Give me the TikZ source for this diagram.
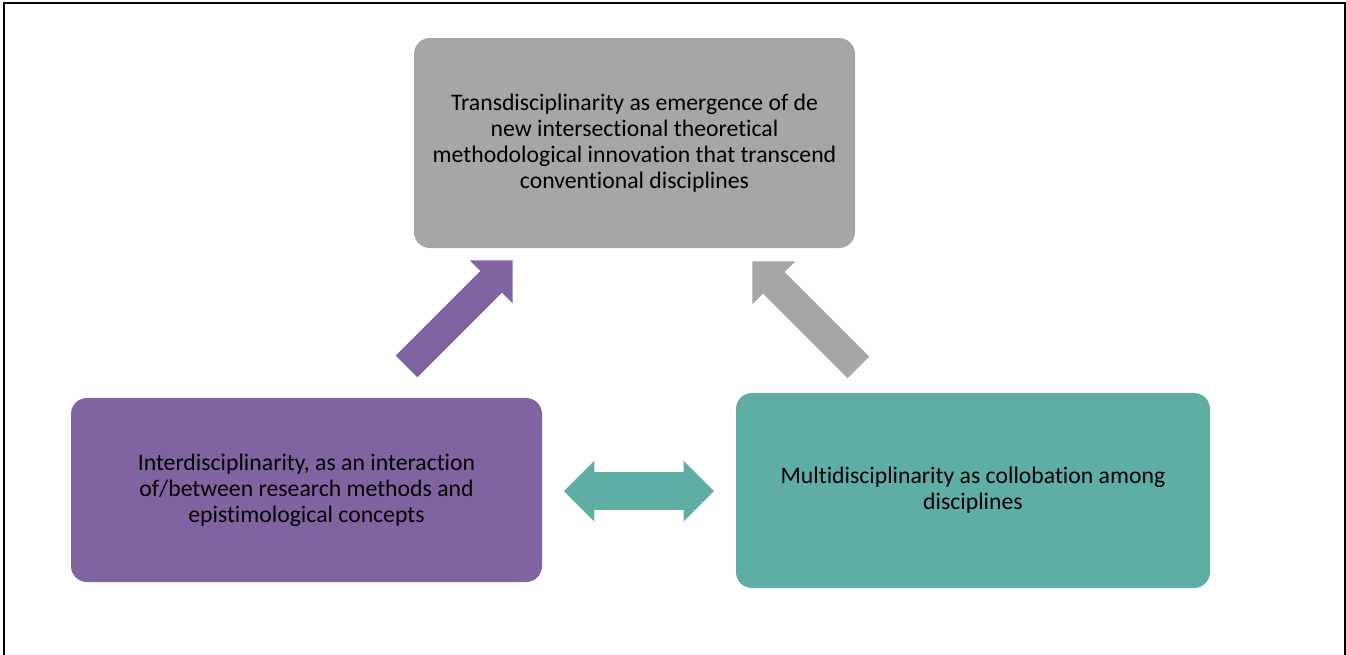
\documentclass[tikz,border=0pt]{standalone}
\usepackage{fontspec}
\setmainfont[Ligatures=NoCommon]{Carlito}
\usetikzlibrary{shapes.arrows}

\definecolor{boxgray}{HTML}{A6A6A6}
\definecolor{boxpurple}{HTML}{8064A2}
\definecolor{boxteal}{HTML}{5EAEA5}

\begin{document}
\begin{tikzpicture}[every node/.style={font=\fontsize{13.5pt}{14.8pt}\selectfont}, box/.style={rounded corners=0.32cm, align=center, inner sep=0pt}, uparrow/.style={single arrow, single arrow tip angle=90, single arrow head extend=0.3cm, text height=0.3cm, text depth=0.3cm, minimum height=3cm, inner sep=0pt, anchor=tip}, sidearrow/.style={double arrow, double arrow tip angle=90, double arrow head extend=0.23cm, text height=0.37cm, text depth=0.37cm, minimum height=3cm, inner sep=0pt}]
	\useasboundingbox (0,0) rectangle (26.92,-13.1);
	\draw[line width=0.04cm] (0.08,-13.2) -- (0.08,-0.06) -- (26.9,-0.06) -- (26.9,-13.2);
	\node[box, fill=boxgray, minimum width=8.82cm, minimum height=4.2cm] (trans) at (12.69,-2.86) {Transdisciplinarity as emergence of de\\new intersectional theoretical\\methodological innovation that transcend\\conventional disciplines};
	\node[box, fill=boxpurple, minimum width=9.42cm, minimum height=3.68cm] (inter) at (6.13,-9.8) {Interdisciplinarity, as an interaction\\of/between research methods and\\epistimological concepts};
	\node[box, fill=boxteal, minimum width=9.48cm, minimum height=3.9cm] (multi) at (19.46,-9.81) {Multidisciplinarity as collobation among\\disciplines};
	\node[uparrow, fill=boxpurple, rotate=45] (interup) at (10.26,-5.2) {};
	\node[uparrow, fill=boxgray, rotate=135] (multiup) at (15.04,-5.22) {};
	\node[sidearrow, fill=boxteal] (link) at (12.78,-9.82) {};
\end{tikzpicture}
\end{document}
